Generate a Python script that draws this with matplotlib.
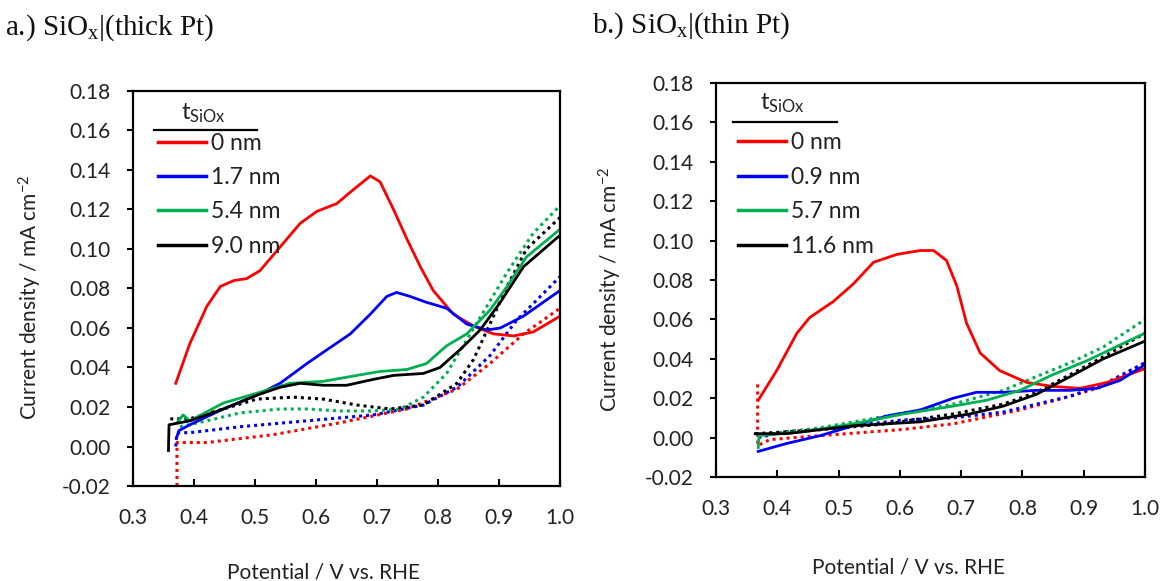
import matplotlib
matplotlib.use("Agg")
import matplotlib.pyplot as plt
from matplotlib.lines import Line2D

plt.rcParams['font.family'] = ['Lato', 'DejaVu Sans']

# --- panel a: SiOx | thick Pt ---
a_labels = ["0 nm", "1.7 nm", "5.4 nm", "9.0 nm"]

a_red_v = [0.370, 0.393, 0.421, 0.443, 0.465, 0.486, 0.508, 0.541, 0.574, 0.601, 0.634, 0.661, 0.689,
           0.705, 0.727, 0.749, 0.771, 0.792, 0.825, 0.858, 0.891, 0.924, 0.956, 1.0]
a_red_j = [0.032, 0.052, 0.071, 0.081, 0.084, 0.085, 0.089, 0.101, 0.113, 0.119, 0.123, 0.130, 0.137,
           0.134, 0.120, 0.105, 0.091, 0.079, 0.067, 0.061, 0.057, 0.056, 0.058, 0.066]
a_red_dot_v = [0.372, 0.372, 0.421, 0.530, 0.639, 0.749, 0.831, 0.885, 0.940, 1.0]
a_red_dot_j = [-0.020, 0.002, 0.002, 0.006, 0.012, 0.019, 0.029, 0.042, 0.057, 0.070]

a_blue_v = [0.371, 0.375, 0.393, 0.448, 0.503, 0.541, 0.585, 0.618, 0.656, 0.689, 0.716, 0.732,
            0.754, 0.781, 0.814, 0.847, 0.880, 0.902, 0.940, 1.0]
a_blue_j = [0.004, 0.008, 0.011, 0.019, 0.026, 0.032, 0.042, 0.049, 0.057, 0.067, 0.076, 0.078,
            0.076, 0.073, 0.070, 0.062, 0.059, 0.060, 0.066, 0.079]
a_blue_dot_v = [0.370, 0.372, 0.393, 0.475, 0.585, 0.694, 0.776, 0.831, 0.885, 0.929, 1.0]
a_blue_dot_j = [0.000, 0.007, 0.007, 0.010, 0.013, 0.016, 0.021, 0.030, 0.046, 0.064, 0.086]

a_green_v = [0.372, 0.382, 0.393, 0.448, 0.503, 0.557, 0.612, 0.667, 0.705, 0.749, 0.781, 0.814,
             0.847, 0.885, 0.913, 0.945, 1.0]
a_green_j = [0.012, 0.016, 0.013, 0.022, 0.027, 0.032, 0.033, 0.036, 0.038, 0.039, 0.042, 0.051,
             0.057, 0.069, 0.081, 0.096, 0.110]
a_green_dot_v = [0.377, 0.421, 0.475, 0.541, 0.585, 0.639, 0.694, 0.738, 0.776, 0.814, 0.847,
                 0.880, 0.913, 0.956, 1.0]
a_green_dot_j = [0.010, 0.013, 0.017, 0.019, 0.019, 0.018, 0.018, 0.019, 0.025, 0.037, 0.054,
                 0.071, 0.088, 0.108, 0.122]

a_black_v = [0.358, 0.359, 0.393, 0.448, 0.503, 0.541, 0.574, 0.612, 0.650, 0.694, 0.727, 0.776,
             0.803, 0.836, 0.869, 0.902, 0.940, 1.0]
a_black_j = [-0.002, 0.011, 0.013, 0.019, 0.026, 0.030, 0.032, 0.031, 0.031, 0.034, 0.036, 0.037,
             0.040, 0.049, 0.059, 0.073, 0.091, 0.107]
a_black_dot_v = [0.361, 0.393, 0.448, 0.503, 0.563, 0.612, 0.667, 0.721, 0.776, 0.831, 0.858,
                 0.885, 0.913, 0.945, 1.0]
a_black_dot_j = [0.014, 0.014, 0.019, 0.024, 0.025, 0.024, 0.021, 0.019, 0.021, 0.032, 0.044,
                 0.062, 0.081, 0.100, 0.116]

# --- panel b: SiOx | thin Pt ---
b_labels = ["0 nm", "0.9 nm", "5.7 nm", "11.6 nm"]

b_red_v = [0.369, 0.399, 0.432, 0.453, 0.491, 0.524, 0.557, 0.595, 0.633, 0.655, 0.676, 0.693,
           0.709, 0.731, 0.763, 0.807, 0.850, 0.894, 0.938, 1.0]
b_red_j = [0.019, 0.034, 0.053, 0.061, 0.069, 0.078, 0.089, 0.093, 0.095, 0.095, 0.090, 0.077,
           0.058, 0.043, 0.034, 0.028, 0.026, 0.025, 0.028, 0.035]
b_red_dot_v = [0.368, 0.368, 0.388, 0.470, 0.600, 0.687, 0.796, 0.878, 0.932, 1.0]
b_red_dot_j = [0.027, -0.004, -0.001, 0.001, 0.004, 0.007, 0.014, 0.021, 0.026, 0.038]

b_blue_v = [0.369, 0.415, 0.470, 0.524, 0.579, 0.633, 0.687, 0.725, 0.769, 0.823, 0.878, 0.921,
            0.959, 1.0]
b_blue_j = [-0.007, -0.003, 0.001, 0.006, 0.011, 0.014, 0.020, 0.023, 0.023, 0.024, 0.024, 0.025,
            0.029, 0.037]
b_blue_dot_v = [0.369, 0.415, 0.524, 0.606, 0.687, 0.769, 0.823, 0.878, 0.932, 1.0]
b_blue_dot_j = [0.000, 0.003, 0.006, 0.009, 0.010, 0.013, 0.017, 0.021, 0.027, 0.038]

b_green_v = [0.369, 0.370, 0.443, 0.524, 0.606, 0.687, 0.742, 0.796, 0.850, 0.905, 0.959, 1.0]
b_green_j = [-0.005, 0.001, 0.003, 0.007, 0.012, 0.016, 0.019, 0.024, 0.032, 0.039, 0.047, 0.053]
b_green_dot_v = [0.369, 0.470, 0.579, 0.687, 0.769, 0.823, 0.878, 0.932, 1.0]
b_green_dot_j = [0.001, 0.005, 0.011, 0.017, 0.024, 0.031, 0.038, 0.046, 0.060]

b_black_v = [0.364, 0.415, 0.524, 0.633, 0.714, 0.769, 0.823, 0.878, 0.932, 1.0]
b_black_j = [0.002, 0.002, 0.006, 0.008, 0.012, 0.016, 0.022, 0.031, 0.040, 0.049]
b_black_dot_v = [0.364, 0.470, 0.579, 0.687, 0.769, 0.823, 0.878, 0.932, 1.0]
b_black_dot_j = [0.002, 0.004, 0.007, 0.012, 0.017, 0.023, 0.032, 0.041, 0.053]

colors = ['#ff0000', '#0000ff', '#00b050', '#000000']

a_solid = [(a_red_v, a_red_j), (a_blue_v, a_blue_j), (a_green_v, a_green_j), (a_black_v, a_black_j)]
a_dotted = [(a_red_dot_v, a_red_dot_j), (a_blue_dot_v, a_blue_dot_j),
            (a_green_dot_v, a_green_dot_j), (a_black_dot_v, a_black_dot_j)]
b_solid = [(b_red_v, b_red_j), (b_blue_v, b_blue_j), (b_green_v, b_green_j), (b_black_v, b_black_j)]
b_dotted = [(b_red_dot_v, b_red_dot_j), (b_blue_dot_v, b_blue_dot_j),
            (b_green_dot_v, b_green_dot_j), (b_black_dot_v, b_black_dot_j)]


def draw_panel(ax, solid, dotted, labels, leg_anchor, spacing, title_xy, underline):
    # dotted curves first, solid on top
    for (v, j), c in zip(dotted, colors):
        ax.plot(v, j, color=c, lw=2.2, linestyle=(0, (1, 1.3)))
    for (v, j), c in zip(solid, colors):
        ax.plot(v, j, color=c, lw=2.0)

    ax.set_xlim(0.3, 1.0)
    ax.set_ylim(-0.02, 0.18)
    ax.set_xticks([0.3, 0.4, 0.5, 0.6, 0.7, 0.8, 0.9, 1.0])
    ax.set_yticks([-0.02, 0.0, 0.02, 0.04, 0.06, 0.08, 0.10, 0.12, 0.14, 0.16, 0.18])
    ax.xaxis.set_major_formatter(plt.FormatStrFormatter('%.1f'))
    ax.yaxis.set_major_formatter(plt.FormatStrFormatter('%.2f'))
    ax.tick_params(axis='x', direction='in', length=5, width=1.5, pad=16, labelsize=15, colors='#222222')
    ax.tick_params(axis='y', direction='out', length=4, width=1.5, pad=12, labelsize=15, colors='#222222')
    ax.tick_params(axis='both', color='black')
    for s in ax.spines.values():
        s.set_linewidth(1.6)

    handles = [Line2D([], [], color=c, lw=2.5) for c in colors]
    ax.legend(handles, labels, loc='upper left', bbox_to_anchor=leg_anchor, frameon=False,
              borderpad=0, borderaxespad=0, handlelength=2.1, handletextpad=0.2,
              labelspacing=spacing, prop={'size': 16.5})
    for t in ax.get_legend().get_texts():
        t.set_color('#222222')
    ax.text(title_xy[0], title_xy[1], r'$\mathregular{t_{SiOx}}$', transform=ax.transAxes,
            ha='center', va='center', fontsize=17, color='#222222')
    ax.plot(underline[0], underline[1], transform=ax.transAxes, color='black', lw=1.6, clip_on=False)

    ax.set_xlabel('Potential / V vs. RHE', fontsize=15, color='#222222')
    ax.set_ylabel(r'Current density / mA cm$\mathregular{^{-2}}$', fontsize=15, color='#222222')


fig = plt.figure(figsize=(11.61, 5.81), dpi=100)
ax1 = fig.add_axes([0.1146, 0.1635, 0.3678, 0.6799])
ax2 = fig.add_axes([0.6167, 0.1790, 0.3695, 0.6780])

draw_panel(ax1, a_solid, a_dotted, a_labels, (0.0585, 0.894), 0.58, (0.164, 0.944),
           ([0.049, 0.290], [0.901, 0.901]))
draw_panel(ax2, b_solid, b_dotted, b_labels, (0.0513, 0.876), 0.60, (0.156, 0.949),
           ([0.040, 0.282], [0.901, 0.901]))

ax1.xaxis.set_label_coords(0.447, -0.218)
ax1.xaxis.label.set_va('center')
ax2.xaxis.set_label_coords(0.4476, -0.231)
ax2.xaxis.label.set_va('center')
ax1.yaxis.set_label_coords(-0.241, 0.478)
ax1.yaxis.label.set_va('center')
ax2.yaxis.set_label_coords(-0.247, 0.475)
ax2.yaxis.label.set_va('center')

serif = ['Liberation Serif', 'DejaVu Serif']
fig.text(0.004, 0.952, r'a.) SiO$\mathregular{_x}$|(thick Pt)', family=serif, fontsize=21,
         va='center', color='#111111')
fig.text(0.510, 0.955, r'b.) SiO$\mathregular{_x}$|(thin Pt)', family=serif, fontsize=21,
         va='center', color='#111111')

fig.savefig('out.png', dpi=100)
